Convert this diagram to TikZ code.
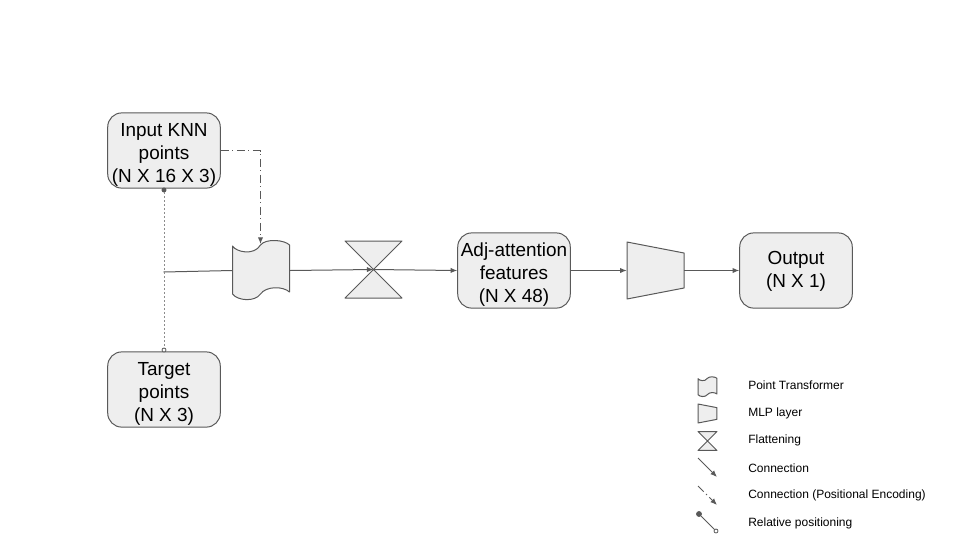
\documentclass[tikz,border=0pt]{standalone}
\usepackage{fontspec}
\setmainfont{Liberation Sans}
\usetikzlibrary{arrows.meta}
\definecolor{shapefill}{HTML}{EEEEEE}
\definecolor{shapeline}{HTML}{595959}
\definecolor{dotgrey}{HTML}{8C8C8C}
\tikzset{
  x=0.75pt,y=-0.75pt,
  outline/.style={draw=shapeline,fill=shapefill,line width=0.75pt,line join=round},
  box/.style={outline,rounded corners=10.5pt,minimum width=84.4pt,minimum height=56.4pt,inner sep=0pt,align=center,font=\fontsize{14.2}{17.25}\selectfont},
  slot/.style={minimum width=42.75pt,minimum height=42.75pt,inner sep=0pt},
  conn/.style={draw=shapeline,line width=0.75pt},
  head/.style={-{Latex[length=5pt,width=4pt]}},
  dotline/.style={draw=dotgrey,line width=0.7pt,dash pattern=on 1.5pt off 1.5pt},
  dashdot/.style={conn,dash pattern=on 6pt off 2.5pt on 1pt off 2.5pt},
  relfrom/.style={circle,fill=shapeline,draw=shapeline,line width=0.5pt,inner sep=0pt,minimum size=3.2pt},
  relto/.style={circle,fill=white,draw=shapeline,line width=0.6pt,inner sep=0pt,minimum size=3pt},
  legend/.style={anchor=west,inner sep=0pt,font=\fontsize{9}{10.5}\selectfont},
}
\newcommand{\topgap}[1]{\rule{0pt}{#1}}
\newcommand{\tapeicon}[3]{% x y scale
  \draw[outline,shift={(#1,#2)},xscale=#3,yscale=#3]
    (0,5) .. controls (3.5,11) and (21.5,15) .. (28,4)
    .. controls (33.5,-3) and (52.5,-1) .. (57,4)
    -- (57,51) .. controls (50.5,45) and (33.5,45) .. (28,53)
    .. controls (22.5,61) and (5.5,60) .. (0,53) -- cycle;}
\newcommand{\trapicon}[3]{%
  \draw[outline,shift={(#1,#2)},xscale=#3,yscale=#3]
    (0,0) -- (57,11) -- (57,46) -- (0,57) -- cycle;}
\newcommand{\glassicon}[3]{%
  \draw[outline,shift={(#1,#2)},xscale=#3,yscale=#3]
    (0,0) -- (57,0) -- (0,57) -- (57,57) -- cycle;}
\begin{document}
\begin{tikzpicture}
\useasboundingbox (0,0) rectangle (960,540);
% main shapes
\node[box] (input) at (164,150.5) {\topgap{16.2pt}Input KNN\\points\\(N X 16 X 3)};
\node[box] (target) at (164,389.5) {\topgap{16.2pt}Target\\points\\(N X 3)};
\node[box] (adj) at (514,270.5) {\topgap{16.2pt}Adj-attention\\features\\(N X 48)};
\node[box] (output) at (796,270.5) {\topgap{11.5pt}Output\\(N X 1)};
\tapeicon{232.5}{241}{1}
\glassicon{345}{241}{1}
\trapicon{627}{242}{1}
\node[slot] (pt) at (261,270.5) {};
\node[slot] (flat) at (373.5,269.5) {};
\node[slot] (mlp) at (655.5,270.5) {};
\coordinate (join) at (163.5,272);
\coordinate (ptin) at (260.5,244);
\coordinate (corner) at (260.5,150.5);
\node[relfrom] (relA) at (164,190) {};
\node[relto] (relB) at (164,350) {};
% connectors
\draw[conn] (join) -- (pt.west);
\draw[conn,head] (pt.east) -- (flat.center);
\draw[conn,head] (flat.center) -- (adj.west);
\draw[conn,head] (adj.east) -- (mlp.west);
\draw[conn,head] (mlp.east) -- (output.west);
\draw[dashdot,head] (input.east) -- (corner) -- (ptin);
\draw[dotline] (relA) -- (relB);
% legend
\tapeicon{698}{377}{0.333}
\trapicon{698}{404}{0.333}
\glassicon{698}{431.5}{0.333}
\coordinate (la) at (698,458); \coordinate (lb) at (717,477);
\coordinate (lc) at (698,486); \coordinate (ld) at (717,505);
\node[relfrom,minimum size=3.8pt] (le) at (699,514) {};
\node[relto] (lf) at (716,531) {};
\draw[conn,head] (la) -- (lb);
\draw[dashdot,head] (lc) -- (ld);
\draw[conn] (le) -- (lf);
\node[legend] (t1) at (748,385.5) {Point Transformer};
\node[legend] (t2) at (748,413) {MLP layer};
\node[legend] (t3) at (748,440.5) {Flattening};
\node[legend] (t4) at (748,468) {Connection};
\node[legend] (t5) at (748,495.5) {Connection (Positional Encoding)};
\node[legend] (t6) at (748,523) {Relative positioning};
\end{tikzpicture}
\end{document}
